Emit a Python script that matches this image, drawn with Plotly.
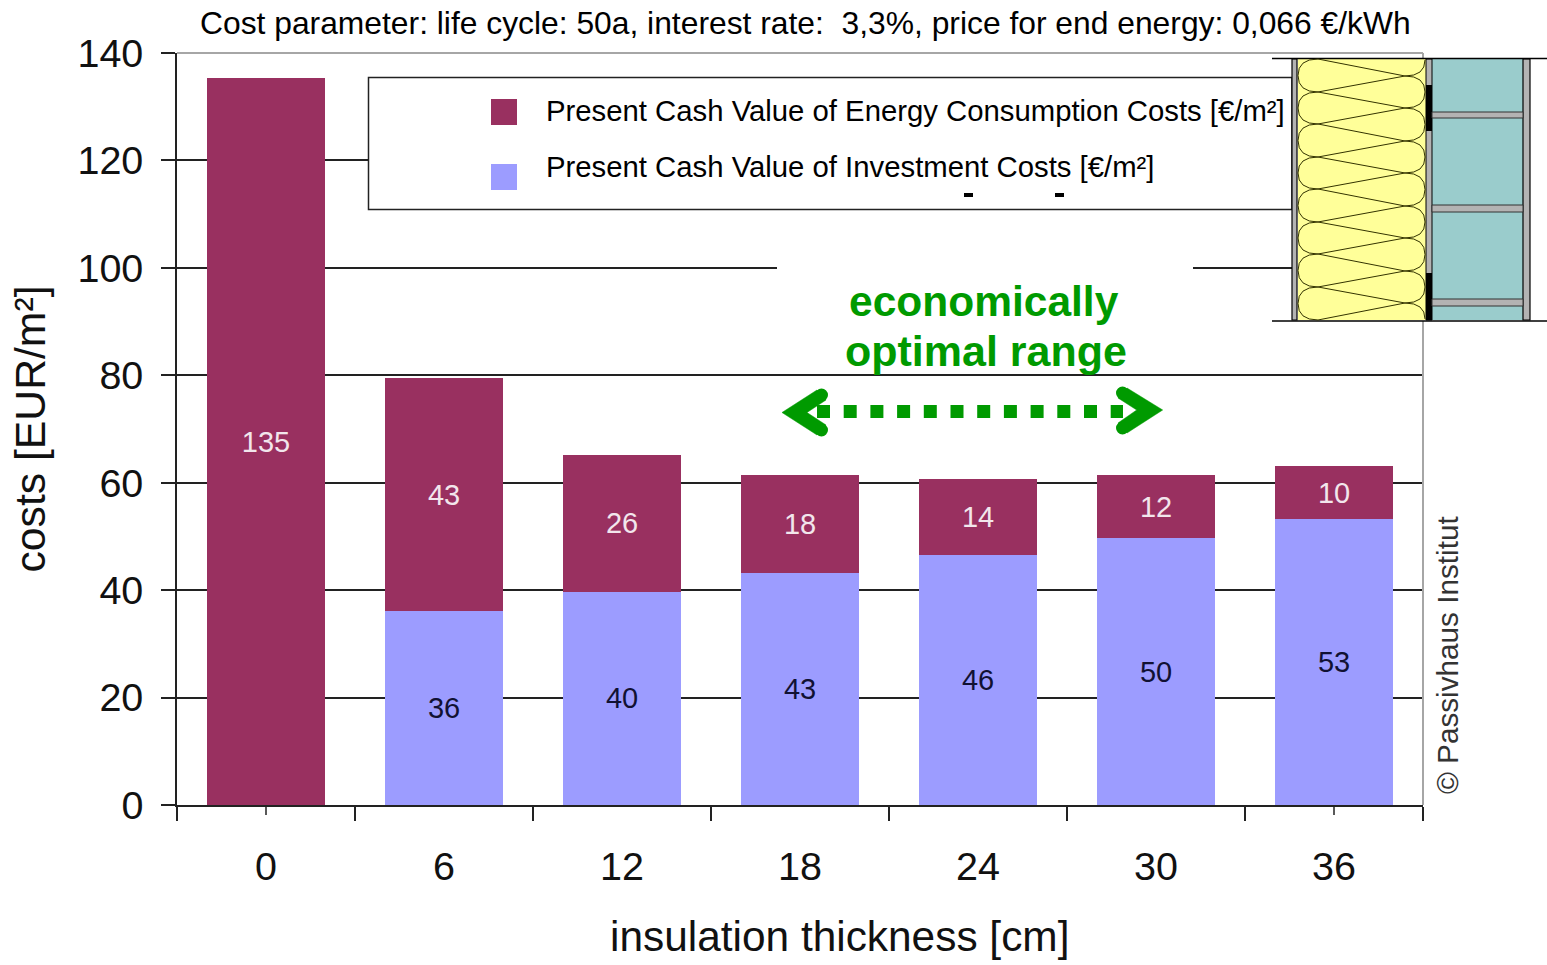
import plotly.graph_objects as go

W, H = 1547, 965
L, R, T, B = 177, 1423, 53, 805

categories = ["0", "6", "12", "18", "24", "30", "36"]
investment = [0, 36.1, 39.7, 43.2, 46.5, 49.7, 53.2]
energy = [135.3, 43.4, 25.5, 18.2, 14.2, 11.7, 9.9]
investment_labels = ["", "36", "40", "43", "46", "50", "53"]
energy_labels = ["135", "43", "26", "18", "14", "12", "10"]
y_ticks = [0, 20, 40, 60, 80, 100, 120, 140]

PLUM = "#993060"
LAV = "#9c9cff"
GREEN = "#009a00"
INK = "#222222"
FONT = "Liberation Sans"


def px(x):
    return (x - L) / (R - L)


def py(y):
    return (B - y) / (B - T)


def pt(x, y):
    return f"{px(x):.5f},{py(y):.5f}"


shapes = []


def add_rect(x0, y0, x1, y1, fill, line=None, width=1):
    shapes.append(dict(type="rect", xref="paper", yref="paper", layer="above",
                       x0=px(x0), x1=px(x1), y0=py(y0), y1=py(y1), fillcolor=fill,
                       line=dict(color=line or fill, width=width if line else 0)))


def add_line(x0, y0, x1, y1, color, width=1, dash="solid"):
    shapes.append(dict(type="line", xref="paper", yref="paper", layer="above",
                       x0=px(x0), x1=px(x1), y0=py(y0), y1=py(y1),
                       line=dict(color=color, width=width, dash=dash)))


def add_path(d, color, width, fill=None):
    shapes.append(dict(type="path", xref="paper", yref="paper", layer="above", path=d,
                       fillcolor=fill or "rgba(0,0,0,0)", line=dict(color=color, width=width)))


def add_dot(cx, cy, r, color):
    shapes.append(dict(type="circle", xref="paper", yref="paper", layer="above",
                       x0=px(cx - r), x1=px(cx + r), y0=py(cy + r), y1=py(cy - r),
                       fillcolor=color, line=dict(width=0)))


def poly(points, close=False):
    return "M " + " L ".join(pt(x, y) for x, y in points) + (" Z" if close else "")


# plot frame
add_line(L, T, R, T, "#a6a6a6", 2)
add_line(R, T, R, B, "#a6a6a6", 2)

# short ticks in the middle of each category
for c in categories:
    shapes.append(dict(type="line", xref="x", yref="paper", x0=c, x1=c, y0=0, y1=py(815),
                       layer="above", line=dict(color=INK, width=1.5)))

# white patch that hides part of the 100 gridline
add_rect(777, 255, 1193, 372, "white")

# legend
add_rect(368.5, 77.5, 1292, 209.5, "white", INK, 1.5)
add_rect(491, 99, 517, 125, PLUM)
add_rect(491, 164, 517, 190, LAV)
add_rect(964, 193, 973, 197, "black")
add_rect(1055, 193, 1064, 197, "black")

# optimal-range arrow
add_line(817, 411.5, 1123, 411.5, GREEN, 13, "13px,13.7px")
add_path(poly([(782, 412.5), (817, 390), (826, 400), (807, 412.5), (826, 425), (817, 435)], True),
         GREEN, 0.5, GREEN)
add_path(poly([(1162.7, 410), (1127, 388), (1118, 398), (1136.7, 410), (1118, 423), (1127, 433)], True),
         GREEN, 0.5, GREEN)
for cx, cy in [(821.5, 395), (821.5, 430), (1122.5, 393), (1122.5, 428)]:
    add_dot(cx, cy, 6.5, GREEN)

# wall section inset
add_rect(1292, 58, 1532, 321, "white")
add_rect(1432, 59, 1523, 320, "#9acccc")
add_rect(1298, 59, 1426, 320, "#ffff99")
add_rect(1292, 59, 1297, 320, "#b3b3b3", "black", 1.2)
add_rect(1523, 59, 1530, 320, "#b3b3b3", "black", 1.2)
add_rect(1426, 59, 1432, 320, "#b3b3b3", "black", 1)
add_rect(1426, 85, 1432, 131, "black")
add_rect(1426, 273, 1432, 320, "black")
for y0, y1 in [(112, 118), (205, 212), (299, 306)]:
    add_rect(1432, y0, 1523, y1, "#b3b3b3", "#333333", 1)
add_line(1272, 58.5, 1547, 58.5, "black", 1.5)
add_line(1272, 321, 1547, 321, "black", 1.5)

# quilt of the soft insulation
QUILT = "#333300"
left_nodes = [59, 92, 124, 157, 189, 222, 254, 287, 320]
right_nodes = [76, 108, 141, 173, 206, 238, 271, 303]


def lobe(xn, xb, y0, y1):
    ym = (y0 + y1) / 2
    return f"M {pt(xn, y0)} Q {pt(xb, y0)} {pt(xb, ym)} Q {pt(xb, y1)} {pt(xn, y1)}"


for a, b in zip(left_nodes, left_nodes[1:]):
    add_path(lobe(1318, 1298, a, b), QUILT, 1)
for a, b in zip(right_nodes, right_nodes[1:]):
    add_path(lobe(1405, 1425, a, b), QUILT, 1)
add_path(f"M {pt(1405, 76)} Q {pt(1425, 76)} {pt(1425, 60)}", QUILT, 1)
add_path(f"M {pt(1405, 303)} Q {pt(1425, 303)} {pt(1425, 319)}", QUILT, 1)
zig = []
for i, y in enumerate(left_nodes):
    zig.append((1318, y))
    if i < len(right_nodes):
        zig.append((1405, right_nodes[i]))
add_path(poly(zig), QUILT, 1)

fig = go.Figure()
fig.add_bar(x=categories, y=investment, name="Present Cash Value of Investment Costs [€/m²]",
            marker=dict(color=LAV, line_width=0), text=investment_labels, textposition="inside",
            insidetextanchor="middle", textangle=0,
            textfont=dict(family=FONT, size=29, color="#111133"))
fig.add_bar(x=categories, y=energy, name="Present Cash Value of Energy Consumption Costs [€/m²]",
            marker=dict(color=PLUM, line_width=0), text=energy_labels, textposition="inside",
            insidetextanchor="middle", textangle=0,
            textfont=dict(family=FONT, size=29, color="#f2e6ec"))


def note(x, y, text, size, color="black", anchor="center", angle=0, bold=False):
    if bold:
        text = f"<b>{text}</b>"
    return dict(xref="paper", yref="paper", x=px(x), y=py(y), text=text, showarrow=False,
                xanchor=anchor, yanchor="middle", textangle=angle,
                font=dict(family=FONT, size=size, color=color))


annotations = [
    note(805, 23, "Cost parameter: life cycle: 50a, interest rate:  3,3%, price for end energy: 0,066 €/kWh", 31.8),
    note(544, 110, "Present Cash Value of Energy Consumption Costs [€/m²]", 29.3, anchor="left"),
    note(544, 166, "Present Cash Value of Investment Costs [€/m²]", 29.3, anchor="left"),
    note(984, 301, "economically", 42.5, GREEN, bold=True),
    note(986, 351, "optimal range", 43, GREEN, bold=True),
    note(1447, 655, "© Passivhaus Institut", 29.7, "#333333", angle=-90),
    note(839, 936, "insulation thickness [cm]", 42.4, "#111111"),
]

fig.update_layout(
    width=W, height=H, autosize=False, barmode="stack", bargap=0.335,
    margin=dict(l=L, r=W - R, t=T, b=H - B, autoexpand=False),
    paper_bgcolor="white", plot_bgcolor="white", showlegend=False,
    font=dict(family=FONT, color="#111111"),
    shapes=shapes, annotations=annotations,
    xaxis=dict(type="category", range=[-0.5, 6.5], showline=True, linecolor=INK, linewidth=1.5,
               ticks="outside", tickson="boundaries", ticklen=14, tickwidth=1.5, tickcolor=INK,
               showgrid=False, tickfont=dict(size=39.5), ticklabelstandoff=26),
    yaxis=dict(range=[0, 140], tickvals=y_ticks, showline=True, linecolor=INK, linewidth=1.5,
               ticks="outside", ticklen=14, tickwidth=1.5, tickcolor=INK,
               showgrid=True, gridcolor=INK, gridwidth=1.5, zeroline=False,
               tickfont=dict(size=39.5), ticklabelstandoff=10,
               title=dict(text="costs [EUR/m²]", font=dict(size=42.7), standoff=18)),
)

fig.write_html("out.html", config={"displayModeBar": False},
               post_script="document.body.style.margin='0';document.body.style.overflow='hidden';")
